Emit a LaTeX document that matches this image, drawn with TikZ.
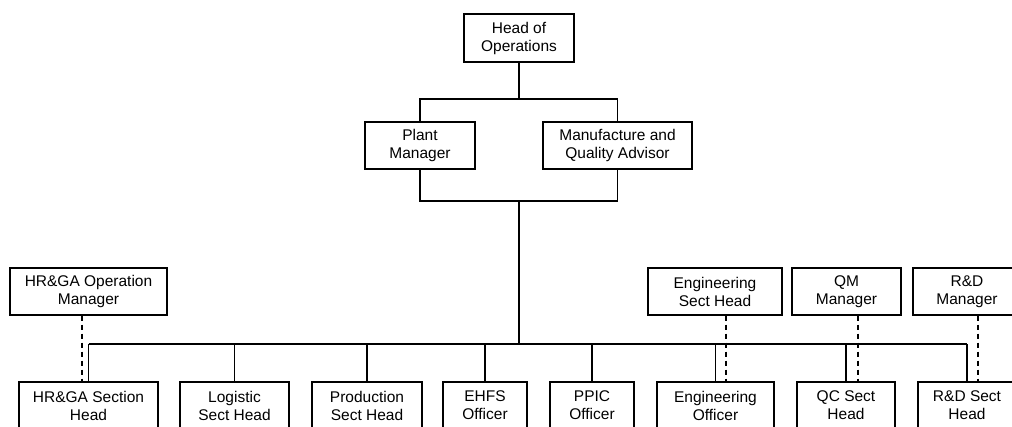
\documentclass[tikz,border=0pt]{standalone}
\usepackage{fontspec}
\setmainfont{Liberation Sans}
\begin{document}
\begin{tikzpicture}[x = 1pt, y = -1pt, line width = 1.2pt,
        post/.style = {draw, align = center, minimum height = 47pt, inner sep = 2pt,
            font = \fontsize{15.5}{18}\selectfont},
        dotline/.style = {line width = 1.1pt, dash pattern = on 5pt off 4pt}]
        \useasboundingbox (0, 0) rectangle (1012, 426);
        \clip (0, 0) rectangle (1012, 426);
        \node[post, minimum width = 110pt, minimum height = 48pt] (head) at (519, 38) {Head of\\Operations};
        \node[post, minimum width = 110pt] (pm) at (420, 145.5) {Plant\\Manager};
        \node[post, minimum width = 149pt] (mqa) at (617.5, 145.5) {Manufacture and\\Quality Advisor};
        \node[post, minimum width = 157pt] (hrom) at (88.5, 291.5) {HR\&GA Operation\\Manager};
        \node[post, minimum width = 134pt] (esh) at (715, 291.5) {Engineering\\Sect Head};
        \node[post, minimum width = 109pt] (qm) at (846.5, 291.5) {QM\\Manager};
        \node[post, minimum width = 108pt] (rdm) at (967, 291.5) {R\&D\\Manager};
        \node[post, minimum width = 139pt] (hrs) at (88.5, 405.5) {HR\&GA Section\\Head};
        \node[post, minimum width = 109pt] (log) at (234.5, 405.5) {Logistic\\Sect Head};
        \node[post, minimum width = 110pt] (prod) at (367, 405.5) {Production\\Sect Head};
        \node[post, minimum width = 84pt] (ehfs) at (485, 405.5) {EHFS\\Officer};
        \node[post, minimum width = 84pt] (ppic) at (592, 405.5) {PPIC\\Officer};
        \node[post, minimum width = 117pt] (engo) at (715.5, 405.5) {Engineering\\Officer};
        \node[post, minimum width = 98pt] (qc) at (846, 405.5) {QC Sect\\Head};
        \node[post, minimum width = 98pt] (rds) at (967, 405.5) {R\&D Sect\\Head};
        \coordinate (split) at (519, 99);
        \coordinate (join) at (519, 201);
        \coordinate (bus) at (519, 344);
        \draw (head) -- (split);
        \draw (pm.north) |- (split) -| (mqa.north);
        \draw (pm.south) |- (join) -| (mqa.south);
        \draw (join) -- (bus);
        \draw (hrs.north |- bus) -- (rds.north |- bus);
        \foreach \n in {hrs, log, prod, ehfs, ppic, engo, qc, rds}
            \draw (\n.north) -- (\n.north |- bus);
        \draw[dotline] ([xshift = -6.5pt]hrom.south) -- ([xshift = -6.5pt]hrs.north);
        \draw[dotline] ([xshift = 11pt]esh.south) -- ([xshift = 11pt]esh.south |- engo.north);
        \draw[dotline] ([xshift = 11.5pt]qm.south) -- ([xshift = 11.5pt]qm.south |- qc.north);
        \draw[dotline] ([xshift = 11pt]rdm.south) -- ([xshift = 11pt]rds.north);
    \end{tikzpicture}
\end{document}
